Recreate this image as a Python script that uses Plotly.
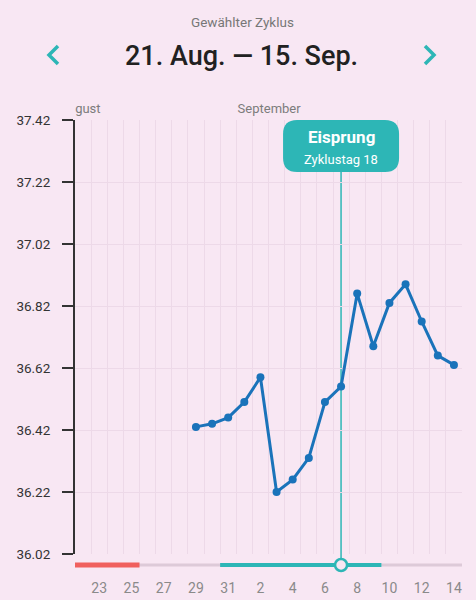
import pandas as pd
import plotly.graph_objects as go

# Cycle data
cycle_start = "2023-08-21"
cycle_end = "2023-09-15"
measure_dates = pd.date_range("2023-08-29", "2023-09-14", freq="D")
temperatures = [36.43, 36.44, 36.46, 36.51, 36.59, 36.22, 36.26, 36.33, 36.51,
                36.56, 36.86, 36.69, 36.83, 36.89, 36.77, 36.66, 36.63]
period_days = pd.date_range("2023-08-21", "2023-08-25", freq="D")
fertile_days = pd.date_range("2023-08-31", "2023-09-09", freq="D")
ovulation_day = pd.Timestamp("2023-09-07")
cycle_day = 18

x_tick_dates = pd.date_range("2023-08-23", "2023-09-14", freq="2D")
x_tick_labels = [str(d.day) for d in x_tick_dates]
y_ticks = [36.02, 36.22, 36.42, 36.62, 36.82, 37.02, 37.22, 37.42]
month_labels = ["August", "September"]
month_label_dates = ["2023-08-20 13:00", "2023-08-31 14:00"]

BG = "#f8e7f3"
TEAL = "#2db6b6"
BLUE = "#1a73ba"
GRID = "#edd9e8"
FONT = "Roboto"

half_day = pd.Timedelta(hours=12)
x_range = [period_days[0] + half_day, measure_dates[-1] + half_day]
main_top = 434 / 454
bar_y = -11 / 454

fig = go.Figure()

fig.add_trace(go.Scatter(
    x=measure_dates,
    y=temperatures,
    mode="lines+markers",
    line=dict(color=BLUE, width=3),
    marker=dict(color=BLUE, size=8),
    cliponaxis=False,
    showlegend=False,
    hoverinfo="skip",
))

# Month labels, clipped at the plot edge
fig.add_trace(go.Scatter(
    x=month_label_dates,
    y=[0.5, 0.5],
    xaxis="x2",
    yaxis="y2",
    mode="text",
    text=month_labels,
    textposition="middle right",
    textfont=dict(family=FONT, size=13, color="#7c7c7c"),
    cliponaxis=True,
    showlegend=False,
    hoverinfo="skip",
))

# Ovulation line
fig.add_shape(type="line", xref="x", yref="paper",
              x0=ovulation_day, x1=ovulation_day, y0=bar_y, y1=main_top,
              line=dict(color=TEAL, width=1.5), layer="between")

# Phase bar under the chart
fig.add_shape(type="line", xref="x", yref="paper",
              x0=x_range[0], x1=x_range[1], y0=bar_y, y1=bar_y,
              line=dict(color="#ddcad8", width=3))
fig.add_shape(type="line", xref="x", yref="paper",
              x0=period_days[0] - half_day, x1=period_days[-1] + half_day, y0=bar_y, y1=bar_y,
              line=dict(color="#f0605e", width=5))
fig.add_shape(type="line", xref="x", yref="paper",
              x0=fertile_days[0] - half_day, x1=fertile_days[-1] + half_day, y0=bar_y, y1=bar_y,
              line=dict(color=TEAL, width=4))
fig.add_shape(type="circle", xref="x", yref="paper",
              xsizemode="pixel", ysizemode="pixel",
              xanchor=ovulation_day, yanchor=bar_y,
              x0=-6, x1=6, y0=-6, y1=6,
              fillcolor=BG, line=dict(color=TEAL, width=2.5))

# Ovulation callout
fig.add_shape(type="path", xref="x", yref="y",
              xsizemode="pixel", ysizemode="pixel",
              xanchor=ovulation_day, yanchor=37.42,
              path="M -44,0 L 44,0 Q 58,0 58,-14 L 58,-38 Q 58,-52 44,-52 "
                   "L -44,-52 Q -58,-52 -58,-38 L -58,-14 Q -58,0 -44,0 Z",
              fillcolor=TEAL, line=dict(width=0), layer="above")
fig.add_annotation(x=ovulation_day, y=37.42, yshift=-17, yanchor="middle",
                   text="<b>Eisprung</b>", showarrow=False,
                   font=dict(family=FONT, size=17, color="white"))
fig.add_annotation(x=ovulation_day, y=37.42, yshift=-39, yanchor="middle",
                   text=f"Zyklustag {cycle_day}", showarrow=False,
                   font=dict(family=FONT, size=13, color="white"))

# Header
start = pd.Timestamp(cycle_start)
end = pd.Timestamp(cycle_end)
header = f"{start.day}. {start.strftime('%b')}. — {end.day}. Sep."
fig.add_annotation(xref="paper", yref="paper", x=(242 - 75) / 387, y=(554 - 22) / 454,
                   xanchor="center", yanchor="middle",
                   text="Gewählter Zyklus", showarrow=False,
                   font=dict(family=FONT, size=13.5, color="#777777"))
fig.add_annotation(xref="paper", yref="paper", x=(241 - 75) / 387, y=(554 - 56) / 454,
                   xanchor="center", yanchor="middle",
                   text=header, showarrow=False,
                   font=dict(family=FONT, size=27, color="#212121", weight=500))
for cx, path in [(51, "M 7,9 L -2,0 L 7,-9"), (432, "M -7,9 L 2,0 L -7,-9")]:
    fig.add_shape(type="path", xref="paper", yref="paper",
                  xsizemode="pixel", ysizemode="pixel",
                  xanchor=(cx - 75) / 387, yanchor=(554 - 55) / 454,
                  path=path, line=dict(color=TEAL, width=3.5))

fig.update_layout(
    width=476,
    height=600,
    margin=dict(l=75, r=14, t=100, b=46),
    paper_bgcolor=BG,
    plot_bgcolor=BG,
    font=dict(family=FONT),
    xaxis=dict(
        type="date",
        range=x_range,
        domain=[0, 1],
        anchor="y",
        automargin=False,
        tickmode="array",
        tickvals=x_tick_dates,
        ticktext=x_tick_labels,
        tickfont=dict(size=14, color="#8a8a8a"),
        showgrid=False,
        ticks="",
        ticklabelstandoff=24,
        zeroline=False,
        showline=False,
        minor=dict(tickmode="linear", tick0=x_range[0], dtick=86400000,
                   showgrid=True, gridcolor=GRID, gridwidth=1, ticks=""),
    ),
    yaxis=dict(
        range=[36.02, 37.42],
        domain=[0, main_top],
        anchor="x",
        automargin=False,
        tickmode="array",
        tickvals=y_ticks,
        ticktext=[f"{v:.2f}" for v in y_ticks],
        tickfont=dict(size=13.5, color="#333333"),
        showgrid=True,
        gridcolor=GRID,
        gridwidth=1,
        showline=True,
        linecolor="#333333",
        linewidth=2,
        ticks="outside",
        ticklen=11,
        tickwidth=2,
        tickcolor="#333333",
        ticklabelstandoff=9,
        zeroline=False,
    ),
    xaxis2=dict(type="date", range=x_range, domain=[0, 1], anchor="y2", visible=False),
    yaxis2=dict(range=[0, 1], domain=[main_top, 1], anchor="x2", visible=False),
)

fig.write_html("out.html",
               config={"displayModeBar": False},
               post_script="document.body.style.margin='0';"
                           f"document.body.style.background='{BG}';")
